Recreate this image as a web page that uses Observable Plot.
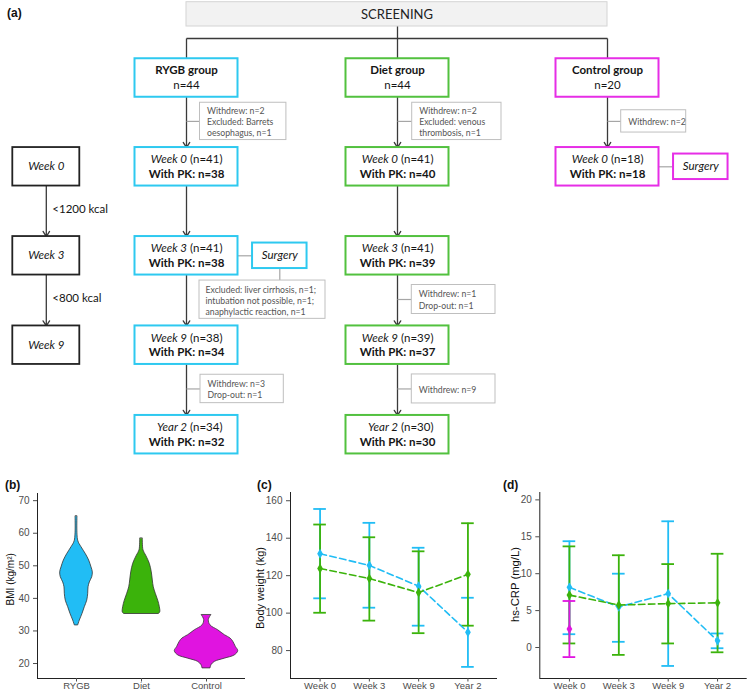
<!DOCTYPE html>
<html><head><meta charset="utf-8">
<script src="https://cdn.jsdelivr.net/npm/d3@7"></script>
<script src="https://cdn.jsdelivr.net/npm/@observablehq/plot@0.6"></script>
<style>
html,body{margin:0;padding:0;background:#fff;}
#root{position:relative;width:752px;height:692px;overflow:hidden;background:#fff;}
.plabel{position:absolute;font:bold 12px "Liberation Sans",Arial,sans-serif;color:#111;line-height:14px;}
</style></head><body><div id="root"></div>
<script>
// ================= DATA =================
const groups = ["RYGB", "Diet", "Control"];
const timepoints = ["Week 0", "Week 3", "Week 9", "Year 2"];

// (a) flowchart content
const screeningLabel = "SCREENING";
const groupTitles = ["RYGB group", "Diet group", "Control group"];
const groupN = [44, 44, 20];
const stageRYGB_n = [41, 41, 38, 34];
const stageRYGB_pk = [38, 38, 34, 32];
const stageDiet_n = [41, 41, 39, 30];
const stageDiet_pk = [40, 39, 37, 30];
const stageControl_n = [18];
const stageControl_pk = [18];
const timelineStages = ["Week 0", "Week 3", "Week 9"];
const dietSteps = ["<1200 kcal", "<800 kcal"];
const surgeryLabel = "Surgery";
const surgeryGroups = ["RYGB", "Control"];
const surgeryStage = [1, 0]; // index into timepoints
const noteGroup = ["RYGB", "Diet", "Control", "Diet", "RYGB", "Diet"];
const noteAfterStage = [-1, -1, -1, 1, 2, 2]; // -1 = after group box
const noteText = [
  ["Withdrew: n=2", "Excluded: Barrets", "oesophagus, n=1"],
  ["Withdrew: n=2", "Excluded: venous", "thrombosis, n=1"],
  ["Withdrew: n=2"],
  ["Withdrew: n=1", "Drop-out: n=1"],
  ["Withdrew: n=3", "Drop-out: n=1"],
  ["Withdrew: n=9"]
];
const surgeryNoteText = ["Excluded: liver cirrhosis, n=1;", "intubation not possible, n=1;", "anaphylactic reaction, n=1"];

// (b) BMI violin outlines: BMI level and half-width (fraction of category spacing)
const violinBMI_RYGB   = [65.1, 57.7, 55.7, 53.6, 51.6, 49.5, 48.0, 46.5, 44.9, 43.4, 41.4, 39.3, 37.3, 35.2, 33.2, 31.7];
const violinWidth_RYGB = [0.015, 0.026, 0.077, 0.143, 0.195, 0.231, 0.251, 0.242, 0.205, 0.185, 0.180, 0.165, 0.128, 0.092, 0.051, 0.026];
const violinBMI_Diet   = [58.3, 54.7, 53.1, 50.6, 48.0, 45.5, 43.4, 41.4, 39.3, 37.3, 35.7, 35.2];
const violinWidth_Diet = [0.020, 0.031, 0.072, 0.128, 0.158, 0.174, 0.189, 0.220, 0.257, 0.282, 0.288, 0.266];
const violinBMI_Control   = [34.8, 33.3, 31.7, 30.2, 28.7, 27.7, 26.7, 25.1, 23.8, 22.5, 21.5, 20.5, 19.5, 18.5];
const violinWidth_Control = [0.072, 0.035, 0.062, 0.180, 0.282, 0.369, 0.411, 0.451, 0.488, 0.435, 0.282, 0.128, 0.077, 0.062];
const bmiTicks = [20, 30, 40, 50, 60, 70];

// (c) Body weight (kg): mean and error bar limits
const weightRYGB_mean = [131.7, 125.5, 114.4, 89.8];
const weightRYGB_low  = [107.9, 102.9, 93.3, 71.3];
const weightRYGB_high = [155.6, 148.2, 134.9, 108.2];
const weightDiet_mean = [123.8, 118.5, 111.0, 120.7];
const weightDiet_low  = [100.2, 96.0, 89.3, 93.3];
const weightDiet_high = [147.3, 140.5, 133.0, 148.0];
const weightTicks = [80, 100, 120, 140, 160];

// (d) hs-CRP (mg/L)
const crpRYGB_mean = [8.15, 5.5, 7.3, 0.9];
const crpRYGB_low  = [1.8, 0.77, -2.5, -0.1];
const crpRYGB_high = [14.4, 10.0, 17.1, 1.9];
const crpDiet_mean = [7.1, 5.75, 5.95, 6.05];
const crpDiet_low  = [0.55, -1.0, 0.55, -0.65];
const crpDiet_high = [13.7, 12.5, 11.3, 12.7];
const crpControl_mean = [2.5];
const crpControl_low  = [-1.3];
const crpControl_high = [6.3];
const crpTicks = [0, 5, 10, 15, 20];

// ================= STYLE / LAYOUT =================
const flowColor = {RYGB: "#2EC9F0", Diet: "#52C13F", Control: "#E62EE6"};
const chartColor = {RYGB: "#21BDF5", Diet: "#3BB30B", Control: "#E014E0"};
const fontFlow = "Lato, 'Open Sans', sans-serif";
const fontChart = "'Liberation Sans', Arial, sans-serif";
const L = {
  colX: {timeline: 45.8, RYGB: 186, Diet: 397, Control: 607},
  rowY: [77.5, 166.3, 255.3, 344.7, 434.2],
  boxW: 103, boxH: 38.5, tlW: 67,
  screenY: [1.7, 26], busY: 38,
  surgDX: 93.3, surgW: 54.5, surgH: 25.5,
  noteDX: [13.5, 14.7, 13.7, 14.3, 14, 14.3],
  noteW: [86.4, 89.3, 65, 83.7, 83.3, 83.7],
  noteH: [37.3, 37.3, 22.3, 29, 28.4, 29],
  surgNote: {dx: 13, w: 126, gap: 12, h: 38.3}
};

const root = document.getElementById("root");
function put(el, left, top) {
  el.style.position = "absolute";
  el.style.left = left + "px";
  el.style.top = top + "px";
  root.appendChild(el);
}
function label(txt, left, top) {
  const d = document.createElement("div");
  d.className = "plabel"; d.textContent = txt;
  d.style.left = left + "px"; d.style.top = top + "px";
  root.appendChild(d);
}

// ================= (a) FLOWCHART =================
const stageData = {
  RYGB: [stageRYGB_n, stageRYGB_pk],
  Diet: [stageDiet_n, stageDiet_pk],
  Control: [stageControl_n, stageControl_pk]
};
const groupBoxes = groups.map((g, i) => ({g, row: 0, title: groupTitles[i], n: groupN[i]}));
const stageBoxes = [];
groups.forEach(g => stageData[g][0].forEach((n, k) =>
  stageBoxes.push({g, row: k + 1, stage: timepoints[k], n, pk: stageData[g][1][k]})));
const timelineBoxes = timelineStages.map((s, k) => ({g: "timeline", row: k + 1, stage: s}));

const bx1 = d => L.colX[d.g] - (d.g === "timeline" ? L.tlW : L.boxW) / 2;
const bx2 = d => L.colX[d.g] + (d.g === "timeline" ? L.tlW : L.boxW) / 2;
const by1 = d => L.rowY[d.row] - L.boxH / 2;
const by2 = d => L.rowY[d.row] + L.boxH / 2;

const arrows = [];
groups.forEach(g => {
  for (let r = 0; r < stageData[g][0].length; r++)
    arrows.push({x: L.colX[g], y1: L.rowY[r] + L.boxH / 2, y2: L.rowY[r + 1] - L.boxH / 2});
});
for (let r = 1; r < timelineStages.length; r++)
  arrows.push({x: L.colX.timeline, y1: L.rowY[r] + L.boxH / 2, y2: L.rowY[r + 1] - L.boxH / 2});

const boxTop0 = L.rowY[0] - L.boxH / 2;
const treeLinks = [
  {x1: L.colX.Diet, y1: L.screenY[1], x2: L.colX.Diet, y2: boxTop0},
  {x1: L.colX.RYGB, y1: L.busY, x2: L.colX.Control, y2: L.busY},
  {x1: L.colX.RYGB, y1: L.busY, x2: L.colX.RYGB, y2: boxTop0},
  {x1: L.colX.Control, y1: L.busY, x2: L.colX.Control, y2: boxTop0}
];

const notes = noteText.map((lines, i) => {
  const g = noteGroup[i], r = noteAfterStage[i] + 1;
  const cy = ((L.rowY[r] + L.boxH / 2) + (L.rowY[r + 1] - L.boxH / 2)) / 2 - 1;
  const x1 = L.colX[g] + L.noteDX[i];
  return {g, lines, x1, x2: x1 + L.noteW[i], y1: cy - L.noteH[i] / 2, y2: cy + L.noteH[i] / 2, cy};
});
const surgeries = surgeryGroups.map((g, i) => {
  const cx = L.colX[g] + L.surgDX, cy = L.rowY[surgeryStage[i] + 1];
  return {g, cx, cy, x1: cx - L.surgW / 2, x2: cx + L.surgW / 2, y1: cy - L.surgH / 2, y2: cy + L.surgH / 2};
});
const sR = surgeries[0];
const surgNote = {
  lines: surgeryNoteText,
  x1: L.colX.RYGB + L.surgNote.dx, x2: L.colX.RYGB + L.surgNote.dx + L.surgNote.w,
  y1: sR.y2 + L.surgNote.gap, y2: sR.y2 + L.surgNote.gap + L.surgNote.h
};
const grayLinks = [
  ...notes.map(n => ({x1: L.colX[n.g], y1: n.cy, x2: n.x1, y2: n.cy})),
  ...surgeries.map(s => ({x1: L.colX[s.g] + L.boxW / 2, y1: s.cy, x2: s.x1, y2: s.cy})),
  {x1: sR.cx, y1: sR.y2, x2: sR.cx, y2: surgNote.y1}
];
const stepLabels = dietSteps.map((t, k) => ({t,
  y: ((L.rowY[k + 1] + L.boxH / 2) + (L.rowY[k + 2] - L.boxH / 2)) / 2 - 1.8}));

const txtCol = "#151515";
const flow = Plot.plot({
  width: 752, height: 460, margin: 0,
  x: {domain: [0, 752], range: [0, 752], axis: null},
  y: {domain: [0, 460], range: [0, 460], axis: null},
  color: {type: "identity"},
  style: {fontFamily: fontFlow, background: "transparent", overflow: "visible"},
  marks: [
    Plot.rect([screeningLabel], {x1: () => L.colX.RYGB, x2: () => L.colX.Control,
      y1: () => L.screenY[0], y2: () => L.screenY[1], fill: "#F2F2F2", stroke: "#D4D4D4", strokeWidth: 1}),
    Plot.text([screeningLabel], {x: () => (L.colX.RYGB + L.colX.Control) / 2,
      y: () => (L.screenY[0] + L.screenY[1]) / 2, text: d => d, fontSize: 13, fill: "#222"}),
    Plot.link(treeLinks, {x1: "x1", y1: "y1", x2: "x2", y2: "y2", stroke: "#3a3a3a", strokeWidth: 1.3}),
    Plot.arrow(arrows, {x1: "x", x2: "x", y1: "y1", y2: "y2", stroke: "#3a3a3a", strokeWidth: 1.3,
      headLength: 7, headAngle: 65}),
    Plot.link(grayLinks, {x1: "x1", y1: "y1", x2: "x2", y2: "y2", stroke: "#A6A6A6", strokeWidth: 1.2}),
    // notes
    Plot.rect(notes.concat([surgNote]), {x1: "x1", x2: "x2", y1: "y1", y2: "y2", fill: "white", stroke: "#BFBFBF", strokeWidth: 1}),
    Plot.text(notes, {x: d => d.x1 + 7, y: "cy", text: d => d.lines.join("\n"), textAnchor: "start",
      lineHeight: 1.29, fontSize: 8.7, fill: "#555"}),
    Plot.text([surgNote], {x: d => d.x1 + 6, y: d => (d.y1 + d.y2) / 2 + 1, text: d => d.lines.join("\n"),
      textAnchor: "start", lineHeight: 1.25, fontSize: 8.7, fill: "#555"}),
    // boxes
    Plot.rect(groupBoxes.concat(stageBoxes), {x1: bx1, x2: bx2, y1: by1, y2: by2, fill: "white",
      stroke: d => flowColor[d.g], strokeWidth: 2}),
    Plot.rect(timelineBoxes, {x1: bx1, x2: bx2, y1: by1, y2: by2, fill: "white", stroke: "#222", strokeWidth: 1.8}),
    Plot.rect(surgeries, {x1: "x1", x2: "x2", y1: "y1", y2: "y2", fill: "white",
      stroke: d => flowColor[d.g], strokeWidth: 2}),
    // box texts
    Plot.text(groupBoxes, {x: d => L.colX[d.g], y: d => L.rowY[0] - 7.5, text: "title", fontWeight: "bold", fontSize: 11.5, fill: txtCol}),
    Plot.text(groupBoxes, {x: d => L.colX[d.g], y: d => L.rowY[0] + 7.5, text: d => "n=" + d.n, fontSize: 11.5, fill: txtCol}),
    Plot.text(stageBoxes, {x: d => L.colX[d.g] + 0.5, y: d => L.rowY[d.row] - 7.3, text: "stage", textAnchor: "end",
      fontStyle: "italic", fontSize: 11.5, fill: txtCol}),
    Plot.text(stageBoxes, {x: d => L.colX[d.g] + 3.5, y: d => L.rowY[d.row] - 7.3, text: d => `(n=${d.n})`,
      textAnchor: "start", fontSize: 11.5, fill: txtCol}),
    Plot.text(stageBoxes, {x: d => L.colX[d.g], y: d => L.rowY[d.row] + 7.3, text: d => `With PK: n=${d.pk}`,
      fontWeight: "bold", fontSize: 11.5, fill: txtCol}),
    Plot.text(timelineBoxes, {x: d => L.colX.timeline, y: d => L.rowY[d.row], text: "stage",
      fontStyle: "italic", fontSize: 11.5, fill: txtCol}),
    Plot.text(surgeries, {x: "cx", y: "cy", text: () => surgeryLabel, fontStyle: "italic", fontSize: 11.5, fill: txtCol}),
    Plot.text(stepLabels, {x: () => L.colX.timeline + 6, y: "y", text: "t", textAnchor: "start", fontSize: 11.5, fill: txtCol})
  ]
});
put(flow, 0, 0);
label("(a)", 7, 6);

// ================= (b) VIOLIN =================
const violinSrc = {
  RYGB: [violinBMI_RYGB, violinWidth_RYGB],
  Diet: [violinBMI_Diet, violinWidth_Diet],
  Control: [violinBMI_Control, violinWidth_Control]
};
const axisStyleY = {tickSize: 4, tickPadding: 4, fontSize: 10, color: "#4D4D4D", label: null};
const axisStyleX = {tickSize: 3.5, tickPadding: 0.5, fontSize: 9.5, color: "#4D4D4D", label: null};
const violinMarks = [];
groups.forEach((g, gi) => {
  const [b, w] = violinSrc[g];
  const rows = b.map((v, k) => ({bmi: v, w: w[k], gi}));
  violinMarks.push(Plot.areaX(rows, {y: "bmi", x1: d => d.gi - d.w, x2: d => d.gi + d.w,
    fill: chartColor[g], stroke: "#333", strokeWidth: 0.8, curve: "catmull-rom"}));
});
const bPlot = Plot.plot({
  width: 250, height: 222, marginLeft: 37, marginRight: 5, marginTop: 23, marginBottom: 14,
  x: {domain: [-0.6, 2.6]},
  y: {domain: [15.4, 72.2]},
  style: {fontFamily: fontChart, fontSize: "10px", background: "transparent", overflow: "visible"},
  marks: [
    ...violinMarks,
    Plot.ruleY([15.4], {stroke: "#222", strokeWidth: 1}),
    Plot.ruleX([-0.6], {stroke: "#222", strokeWidth: 1}),
    Plot.axisY({...axisStyleY, ticks: bmiTicks}),
    Plot.axisX({...axisStyleX, ticks: [0, 1, 2], tickFormat: i => groups[i]}),
    Plot.text(["BMI (kg/m²)"], {frameAnchor: "left", textAnchor: "middle", rotate: -90, dx: -27, dy: -6.7,
      text: d => d, fontSize: 10, fill: "#111"})
  ]
});
put(bPlot, 0, 470);
label("(b)", 5, 478);

// ================= (c), (d) ERROR-BAR PANELS =================
function linePanel({width, ml, mr, yDomain, yTicks, title, titleSize, titleDx, titleDy, series}) {
  const xDom = [-0.6, 3.6];
  const cap = 0.128;
  const bars = [], lines = [], dots = [];
  series.forEach(s => {
    const rows = s.mean.map((m, i) => ({i, mean: m, low: s.low[i], high: s.high[i]}));
    const c = chartColor[s.g];
    bars.push(Plot.ruleX(rows, {x: "i", y1: "low", y2: "high", stroke: c, strokeWidth: 1.8}));
    bars.push(Plot.ruleY(rows, {y: "low", x1: d => d.i - cap, x2: d => d.i + cap, stroke: c, strokeWidth: 1.8}));
    bars.push(Plot.ruleY(rows, {y: "high", x1: d => d.i - cap, x2: d => d.i + cap, stroke: c, strokeWidth: 1.8}));
    if (rows.length > 1) lines.push(Plot.line(rows, {x: "i", y: "mean", stroke: c, strokeWidth: 1.6, strokeDasharray: "6.5,3.5"}));
    dots.push(Plot.dot(rows, {x: "i", y: "mean", fill: c, symbol: "diamond", r: 3}));
  });
  return Plot.plot({
    width, height: 222, marginLeft: ml, marginRight: mr, marginTop: 22, marginBottom: 14,
    x: {domain: xDom},
    y: {domain: yDomain},
    style: {fontFamily: fontChart, fontSize: "10px", background: "transparent", overflow: "visible"},
    marks: [
      ...bars, ...lines, ...dots,
      Plot.ruleY([yDomain[0]], {stroke: "#222", strokeWidth: 1}),
      Plot.ruleX([xDom[0]], {stroke: "#222", strokeWidth: 1}),
      Plot.axisY({...axisStyleY, ticks: yTicks}),
      Plot.axisX({...axisStyleX, ticks: [0, 1, 2, 3], tickFormat: i => timepoints[i]}),
      Plot.text([title], {frameAnchor: "left", textAnchor: "middle", rotate: -90, dx: titleDx, dy: titleDy,
        text: d => d, fontSize: titleSize, fill: "#111"})
    ]
  });
}

const cPlot = linePanel({width: 260, ml: 50, mr: 3, yDomain: [65.1, 164.4], yTicks: weightTicks,
  title: "Body weight (kg)", titleSize: 11, titleDx: -30, titleDy: 2.5,
  series: [
    {g: "RYGB", mean: weightRYGB_mean, low: weightRYGB_low, high: weightRYGB_high},
    {g: "Diet", mean: weightDiet_mean, low: weightDiet_low, high: weightDiet_high}
  ]});
put(cPlot, 240, 470);
label("(c)", 257, 478);

const dPlot = linePanel({width: 262, ml: 49.3, mr: 5.3, yDomain: [-4.2, 21.0], yTicks: crpTicks,
  title: "hs-CRP (mg/L)", titleSize: 11.3, titleDx: -24.3, titleDy: -1,
  series: [
    {g: "RYGB", mean: crpRYGB_mean, low: crpRYGB_low, high: crpRYGB_high},
    {g: "Diet", mean: crpDiet_mean, low: crpDiet_low, high: crpDiet_high},
    {g: "Control", mean: crpControl_mean, low: crpControl_low, high: crpControl_high}
  ]});
put(dPlot, 490, 470);
label("(d)", 503, 478);
</script></body></html>
